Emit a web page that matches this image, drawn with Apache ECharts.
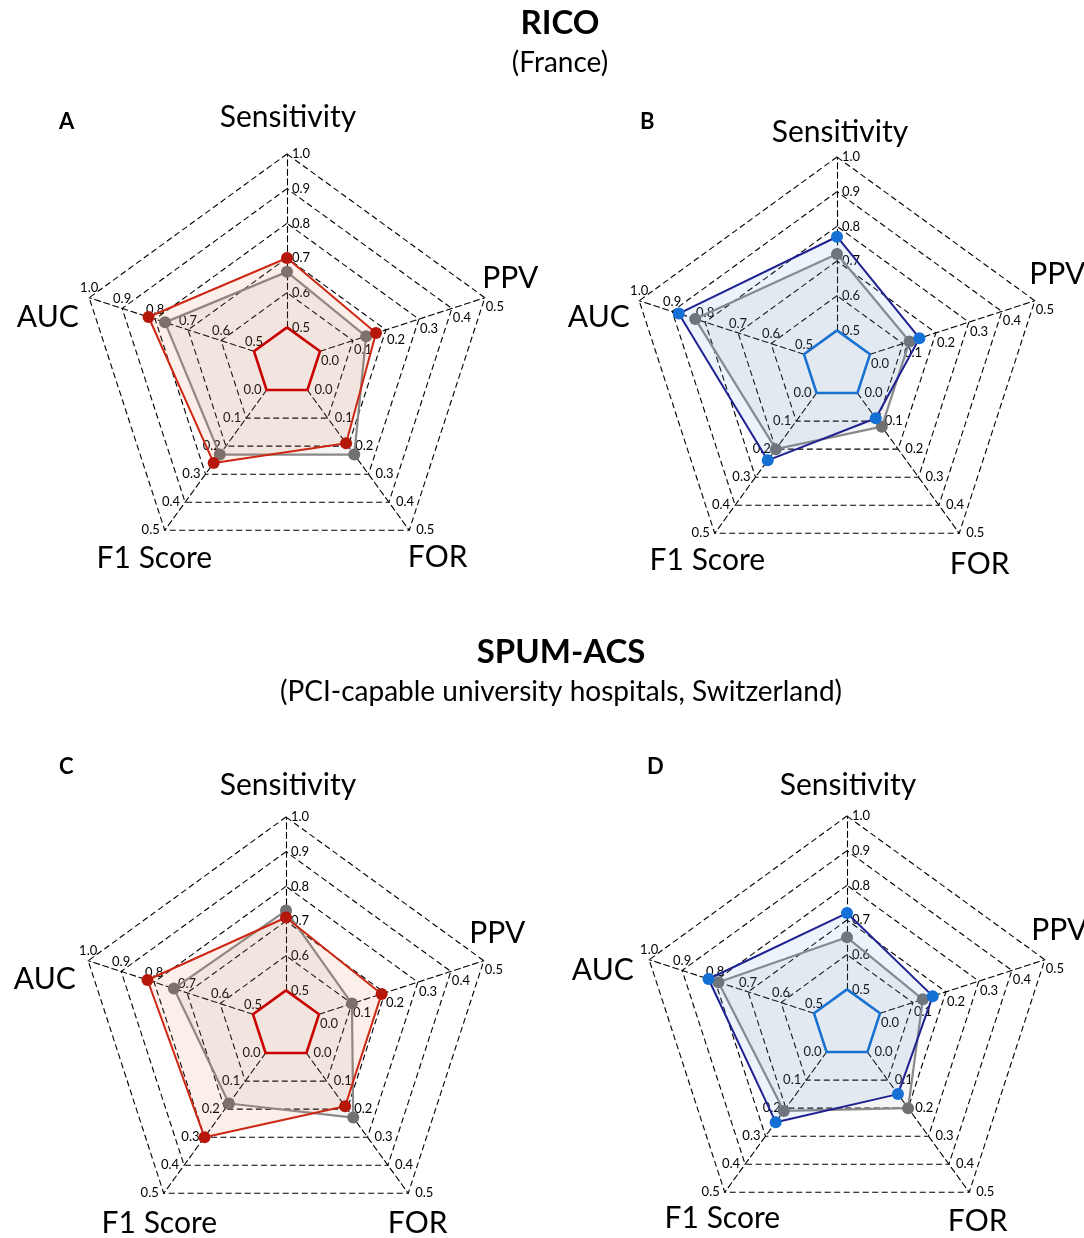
<!DOCTYPE html>
<html>
<head>
<meta charset="utf-8">
<script src="https://cdn.jsdelivr.net/npm/echarts@6/dist/echarts.min.js"></script>
<style>
  html, body { margin: 0; padding: 0; background: #fff; }
  #chart { width: 1084px; height: 1238px; }
</style>
</head>
<body>
<div id="chart"></div>
<script>
// indicator order as echarts lays it out: counter-clockwise from the top
const indicatorNames = ['Sensitivity', 'AUC', 'F1 Score', 'FOR', 'PPV'];
const indicatorMin = [0.4, 0.4, -0.1, -0.1, -0.1];
const indicatorMax = [1.0, 1.0, 0.5, 0.5, 0.5];
const baseRing = [0.5, 0.5, 0.0, 0.0, 0.0];

// values: Sensitivity, AUC, F1 Score, FOR, PPV
const ricoRed = [0.70, 0.82, 0.26, 0.19, 0.17];
const ricoRedGray = [0.66, 0.77, 0.23, 0.23, 0.14];
const ricoBlue = [0.77, 0.88, 0.24, 0.09, 0.15];
const ricoBlueGray = [0.72, 0.83, 0.20, 0.12, 0.12];
const spumRed = [0.71, 0.82, 0.30, 0.19, 0.19];
const spumRedGray = [0.73, 0.74, 0.18, 0.23, 0.10];
const spumBlue = [0.72, 0.82, 0.25, 0.15, 0.16];
const spumBlueGray = [0.65, 0.79, 0.21, 0.20, 0.13];

const FONT = 'Lato, "Open Sans", sans-serif';
const R = 208;

const palette = {
    red: { line: '#cc2412', point: '#b5170a', area: 'rgba(230,110,70,0.17)', ring: '#c80000' },
    blue: { line: '#1b1b8c', point: '#1570d6', area: 'rgba(100,150,220,0.17)', ring: '#1a72d0' }
};

// nudge: per axis name [dx, dy] away from the default spot, order as indicatorNames
const panels = [
    { letter: 'A', center: [287, 362], kind: 'red', main: ricoRed, gray: ricoRedGray, pos: [59, 111],
      nudge: [[1, -4], [-10, 30], [9, 1], [9, 0], [-6, -9]] },
    { letter: 'B', center: [837, 365], kind: 'blue', main: ricoBlue, gray: ricoBlueGray, pos: [640, 111],
      nudge: [[3, 8], [-9, 27], [12, 0], [1, 4], [-9, -16]] },
    { letter: 'C', center: [286, 1025], kind: 'red', main: spumRed, gray: spumRedGray, pos: [59, 756],
      nudge: [[2, 1], [-12, 29], [15, 3], [-10, 3], [-18, -17]] },
    { letter: 'D', center: [847, 1024], kind: 'blue', main: spumBlue, gray: spumBlueGray, pos: [647, 756],
      nudge: [[1, 2], [-15, 21], [17, -1], [-11, 2], [-17, -19]] }
];

// where each axis puts its tick labels (same order as indicatorNames)
const labelPlace = [
    { align: 'left', verticalAlign: 'middle', padding: [0, 0, 4, 5] },
    { align: 'center', verticalAlign: 'bottom', padding: [0, 0, 3, 0] },
    { align: 'right', verticalAlign: 'middle', padding: [0, 5, 8, 0] },
    { align: 'left', verticalAlign: 'middle', padding: [0, 0, 6, 7] },
    { align: 'left', verticalAlign: 'top', padding: [3, 0, 0, 1] }
];

// spokes start at the inner ring, not at the centre
let spokeDash = [];
for (let i = 0; i < 20; i++) spokeDash.push(6, 3.5);
spokeDash[spokeDash.length - 1] = R / 6 + 1;
let spokeOffset = spokeDash.reduce((a, b) => a + b, 0) - R / 6;

function fmt(v) {
    if (Math.abs(v) < 1e-9) v = 0;
    return v.toFixed(1);
}

function nameRich(nudge) {
    let rich = {};
    nudge.forEach((d, i) => {
        let pad = [Math.max(0, 2 * d[1]), Math.max(0, -2 * d[0]), Math.max(0, -2 * d[1]), Math.max(0, 2 * d[0])];
        rich['n' + i] = { fontFamily: FONT, fontSize: 30, color: '#000', padding: pad };
    });
    return rich;
}

let chart = echarts.init(document.getElementById('chart'));

let titles = [
    { text: 'RICO', left: 560, top: 7, textAlign: 'center', padding: 0,
      textStyle: { fontFamily: FONT, fontSize: 33, fontWeight: 'bold', color: '#000' } },
    { text: '(France)', left: 560, top: 49, textAlign: 'center', padding: 0,
      textStyle: { fontFamily: FONT, fontSize: 28, fontWeight: 'normal', color: '#000' } },
    { text: 'SPUM-ACS', left: 561, top: 636, textAlign: 'center', padding: 0,
      textStyle: { fontFamily: FONT, fontSize: 33, fontWeight: 'bold', color: '#000' } },
    { text: '(PCI-capable university hospitals, Switzerland)', left: 561, top: 678, textAlign: 'center', padding: 0,
      textStyle: { fontFamily: FONT, fontSize: 28, fontWeight: 'normal', color: '#000' } }
];
panels.forEach(p => {
    titles.push({ text: p.letter, left: p.pos[0], top: p.pos[1], padding: 0,
        textStyle: { fontFamily: FONT, fontSize: 22, fontWeight: 'bold', color: '#000' } });
});

let radars = panels.map(p => ({
    center: p.center,
    radius: R,
    startAngle: 90,
    splitNumber: 6,
    shape: 'polygon',
    indicator: indicatorNames.map((n, i) => ({
        name: n, min: indicatorMin[i], max: indicatorMax[i],
        axisLabel: labelPlace[i]
    })),
    axisName: {
        color: '#000', fontFamily: FONT, fontSize: 30,
        align: 'center', verticalAlign: 'middle',
        formatter: name => '{n' + indicatorNames.indexOf(name) + '|' + name + '}',
        rich: nameRich(p.nudge)
    },
    nameGap: 33,
    axisLine: { lineStyle: { color: '#000', width: 1.1, type: spokeDash, dashOffset: spokeOffset } },
    axisTick: { show: false },
    axisLabel: {
        show: true, color: '#000', fontFamily: FONT, fontSize: 13,
        showMinLabel: false, margin: 0, formatter: fmt
    },
    splitLine: {
        lineStyle: {
            color: ['rgba(0,0,0,0)', 'rgba(0,0,0,0)', '#000', '#000', '#000', '#000', '#000'],
            width: 1.1, type: [6, 3.5]
        }
    },
    splitArea: { show: false }
}));

let series = [];
panels.forEach((p, k) => {
    let c = palette[p.kind];
    series.push({
        type: 'radar', radarIndex: k, z: 2,
        symbol: 'circle', symbolSize: 12,
        itemStyle: { color: '#717171' },
        lineStyle: { color: '#8a8a8a', width: 2.2 },
        areaStyle: { color: 'rgba(128,128,128,0.12)' },
        data: [{ value: p.gray }]
    });
    series.push({
        type: 'radar', radarIndex: k, z: 3,
        symbol: 'circle', symbolSize: 12,
        itemStyle: { color: c.point },
        lineStyle: { color: c.line, width: 2 },
        areaStyle: { color: c.area },
        data: [{ value: p.main }]
    });
    series.push({
        type: 'radar', radarIndex: k, z: 4,
        symbol: 'none', silent: true,
        lineStyle: { color: c.ring, width: 2.6 },
        data: [{ value: baseRing }]
    });
});

let option = {
    backgroundColor: '#fff',
    animation: false,
    title: titles,
    radar: radars,
    series: series
};
chart.setOption(option);
window.addEventListener('resize', chart.resize);
</script>
</body>
</html>
